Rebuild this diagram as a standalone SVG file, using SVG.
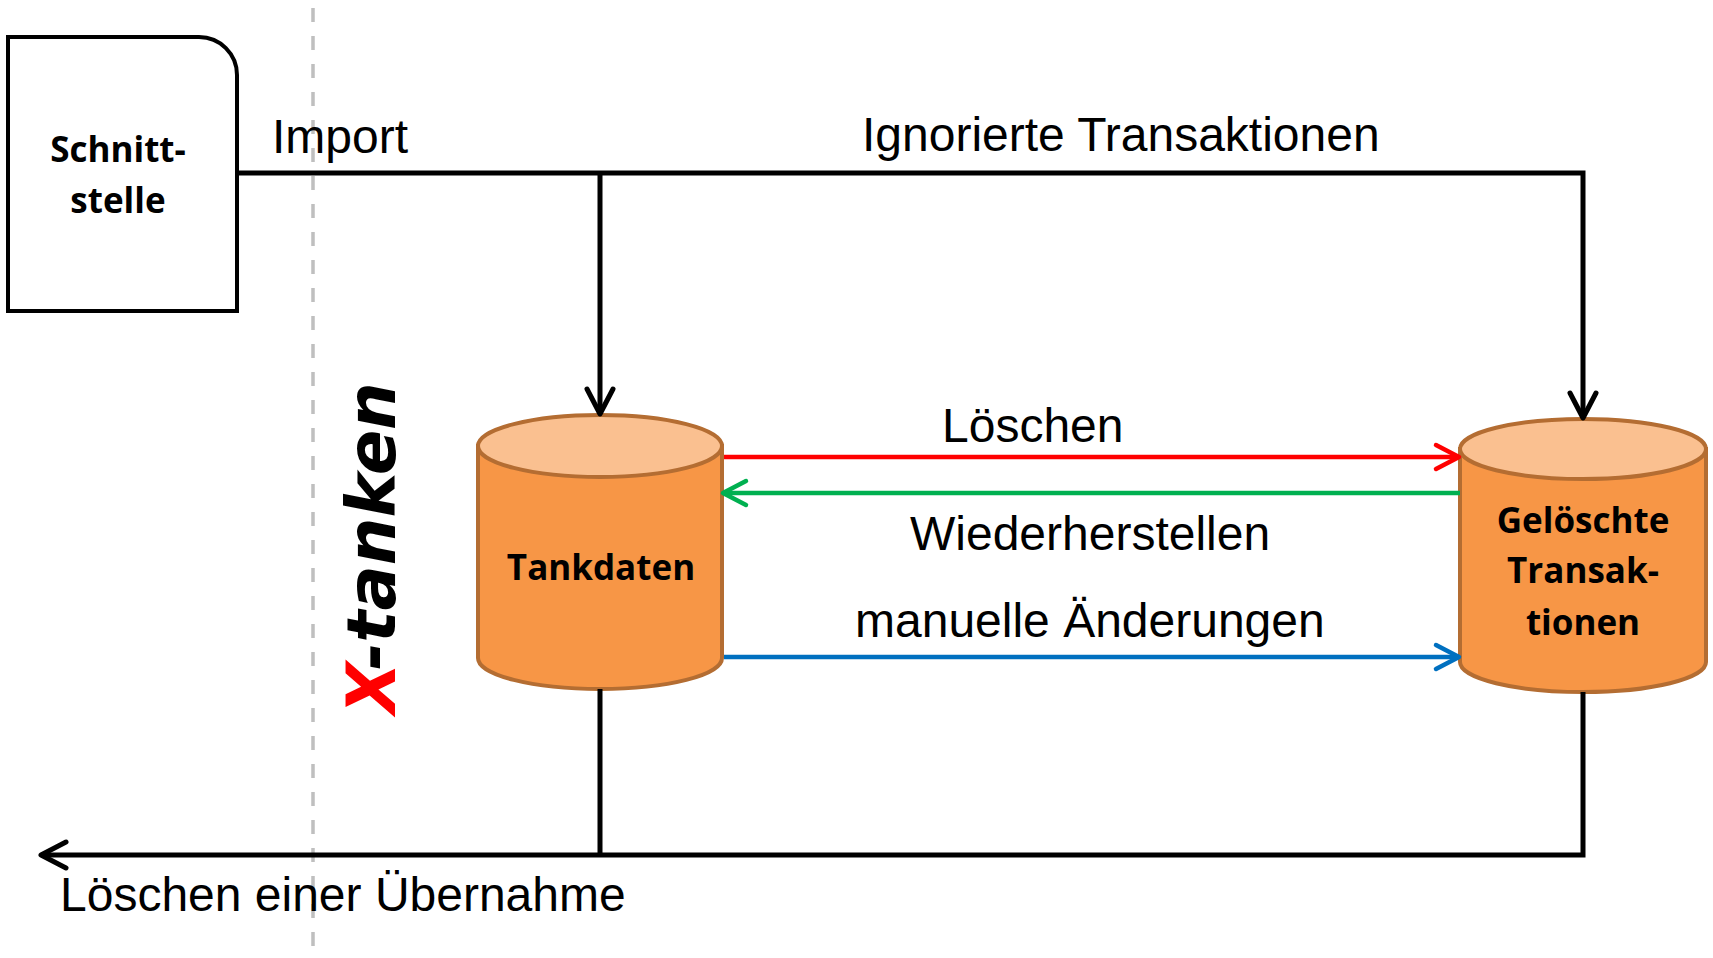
<svg xmlns="http://www.w3.org/2000/svg" width="1713" height="958" viewBox="0 0 1713 958">
  <style>
    .lbl { font-family: "Liberation Sans", Arial, sans-serif; font-size: 48px; fill: #000; }
    .node-lbl { font-family: "Open Sans", "Noto Sans", sans-serif; font-weight: bold; font-size: 35px; fill: #000; text-anchor: middle; }
    .conn { fill: none; stroke: #000; stroke-width: 5; }
    .cyl-body { fill: #F79646; stroke: #B46D32; stroke-width: 4; }
    .cyl-top { fill: #FAC090; stroke: #B46D32; stroke-width: 4; }
  </style>
  <defs>
    <marker id="ah-black" markerUnits="userSpaceOnUse" markerWidth="40" markerHeight="40" refX="30" refY="20" orient="auto" overflow="visible">
      <path d="M5,7 L30,20 L5,33" fill="none" stroke="#000" stroke-width="5" stroke-linecap="round" stroke-linejoin="round"/>
    </marker>
    <marker id="ah-red" markerUnits="userSpaceOnUse" markerWidth="40" markerHeight="40" refX="30" refY="20" orient="auto" overflow="visible">
      <path d="M7,8 L30,20 L7,32" fill="none" stroke="#FF0000" stroke-width="4.5" stroke-linecap="round" stroke-linejoin="round"/>
    </marker>
    <marker id="ah-green" markerUnits="userSpaceOnUse" markerWidth="40" markerHeight="40" refX="30" refY="20" orient="auto" overflow="visible">
      <path d="M7,8 L30,20 L7,32" fill="none" stroke="#00B050" stroke-width="4.5" stroke-linecap="round" stroke-linejoin="round"/>
    </marker>
    <marker id="ah-blue" markerUnits="userSpaceOnUse" markerWidth="40" markerHeight="40" refX="30" refY="20" orient="auto" overflow="visible">
      <path d="M7,8 L30,20 L7,32" fill="none" stroke="#0070C0" stroke-width="4.5" stroke-linecap="round" stroke-linejoin="round"/>
    </marker>
  </defs>

  <rect width="1713" height="958" fill="#fff"/>

  <!-- boundary dashed line -->
  <line id="boundary" x1="313" y1="8" x2="313" y2="950" stroke="#BFBFBF" stroke-width="3.5" stroke-dasharray="14 14"/>

  <!-- X-tanken vertical title -->
  <text id="title" transform="translate(395,714) rotate(-90)" font-family="DejaVu Sans, Verdana, sans-serif" font-weight="bold" font-style="italic" font-size="67" fill="#000"><tspan fill="#FF0000">X</tspan>-tanken</text>

  <!-- Nodes -->
  <g id="schnittstelle">
    <path d="M8,37 H199 A38,38 0 0 1 237,75 V311 H8 Z" fill="#fff" stroke="#000" stroke-width="4"/>
    <text class="node-lbl" x="118" y="162">Schnitt-</text>
    <text class="node-lbl" x="118" y="213">stelle</text>
  </g>

  <g id="tankdaten">
    <path class="cyl-body" d="M478,446 V658 A122,31 0 0 0 722,658 V446 Z"/>
    <ellipse class="cyl-top" cx="600" cy="446" rx="122" ry="31"/>
    <text class="node-lbl" x="601" y="580">Tankdaten</text>
  </g>

  <g id="geloeschte">
    <path class="cyl-body" d="M1460,449 V662 A123,30 0 0 0 1706,662 V449 Z"/>
    <ellipse class="cyl-top" cx="1583" cy="449" rx="123" ry="30"/>
    <text class="node-lbl" x="1583" y="533">Gelöschte</text>
    <text class="node-lbl" x="1583" y="583">Transak-</text>
    <text class="node-lbl" x="1583" y="635">tionen</text>
  </g>

  <!-- Connectors -->
  <g id="connectors">
    <path class="conn" d="M237,173 H1583 V418" marker-end="url(#ah-black)"/>
    <path class="conn" d="M600,173 V414" marker-end="url(#ah-black)"/>
    <path class="conn" d="M600,689 V855"/>
    <path class="conn" d="M1583,692 V855 H41" marker-end="url(#ah-black)"/>
    <line x1="724" y1="457" x2="1459" y2="457" stroke="#FF0000" stroke-width="4.5" marker-end="url(#ah-red)"/>
    <line x1="1460" y1="493" x2="723" y2="493" stroke="#00B050" stroke-width="4.5" marker-end="url(#ah-green)"/>
    <line x1="724" y1="657" x2="1459" y2="657" stroke="#0070C0" stroke-width="4.5" marker-end="url(#ah-blue)"/>
  </g>

  <!-- Connector labels -->
  <g id="labels">
    <text class="lbl" x="272" y="153">Import</text>
    <text class="lbl" x="862" y="151">Ignorierte Transaktionen</text>
    <text class="lbl" x="942" y="442">Löschen</text>
    <text class="lbl" x="910" y="550">Wiederherstellen</text>
    <text class="lbl" x="855" y="637">manuelle Änderungen</text>
    <text class="lbl" x="60" y="911">Löschen einer Übernahme</text>
  </g>
</svg>
